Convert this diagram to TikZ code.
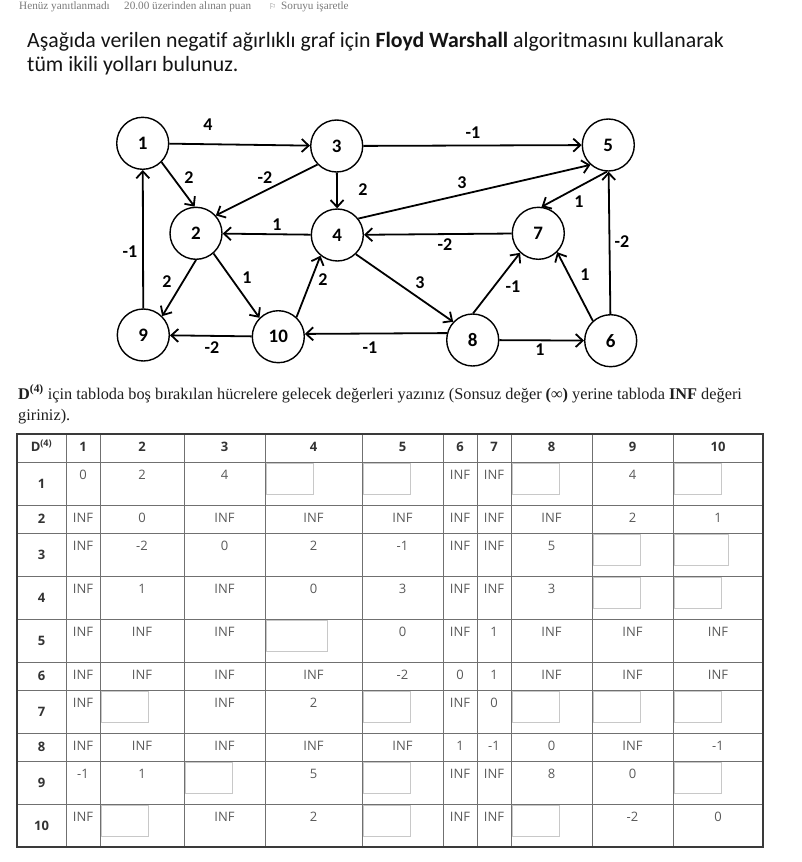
\documentclass[tikz,border=0pt]{standalone}
\usepackage{fontspec}
\setmainfont{Liberation Serif}
\newfontfamily\carlito[Ligatures=NoCommon]{Carlito}
\newfontfamily\osans{Open Sans}
\newfontfamily\djv{DejaVu Sans}
\usetikzlibrary{arrows.meta}
\definecolor{tline}{HTML}{707070}
\definecolor{touter}{HTML}{3A3A3A}
\definecolor{tbox}{HTML}{C8C8C8}
\definecolor{tval}{HTML}{5A5A5A}
\definecolor{thead}{HTML}{333333}
\definecolor{topgray}{HTML}{7A7A7A}
\def\mkB{B}\def\mkW{W}\def\mkV{V}
\newcommand\cellitem[3]{%
  \pgfmathsetmacro\cl{{17,66,100,184,265,362,443,477,511,592,673,763}[#1]}%
  \pgfmathsetmacro\cr{{17,66,100,184,265,362,443,477,511,592,673,763}[#1+1]}%
  \edef\tmpv{#3}%
  \ifx\tmpv\mkB
    \draw[inbox] (\cl+1,#2+1) rectangle (\cl+48,#2+32);
  \else\ifx\tmpv\mkW
    \draw[inbox] (\cl+1,#2+1) rectangle (\cl+62,#2+32);
  \else\ifx\tmpv\mkV
    \draw[inbox] (\cl+1,#2+1) rectangle (\cl+55,#2+32);
  \else
    \node[val] (v#2-#1) at ({(\cl+\cr)/2},#2+17) {#3};
  \fi\fi\fi}
\begin{document}
\begin{tikzpicture}[x=1pt,y=-1pt,
  gnode/.style={circle,draw=black,line width=1.4pt,minimum size=52pt,inner sep=0pt,
    font=\carlito\bfseries\fontsize{19}{19}\selectfont},
  edge/.style={line width=1.8pt,-{Straight Barb[length=7pt,width=13pt,line width=1.8pt]}},
  wlab/.style={font=\carlito\bfseries\fontsize{18}{18}\selectfont,inner sep=0pt},
  inbox/.style={draw=tbox,line width=0.9pt,fill=white},
  val/.style={anchor=base,inner sep=0pt,text=tval,font=\osans\fontsize{13}{13}\selectfont},
  hd/.style={anchor=base,inner sep=0pt,text=thead,font=\osans\bfseries\fontsize{13}{13}\selectfont},
  tline/.style={draw=tline,line width=1pt}]
\useasboundingbox (0,0) rectangle (801,862);
\fill[white] (0,0) rectangle (801,862);

% ---- top status line
\begin{scope}[every node/.style={anchor=base west,inner sep=0pt,text=topgray,font=\fontsize{11.2}{11}\selectfont}]
\node (st1) at (19,9.5) {Henüz yanıtlanmadı};
\node (st2) at (124,9.5) {20.00 üzerinden alınan puan};
\node[font=\djv\fontsize{8}{8}\selectfont] (st3) at (269,9.5) {⚐};
\node (st4) at (281,9.5) {Soruyu işaretle};
\end{scope}

% ---- title
\begin{scope}[every node/.style={anchor=base west,inner sep=0pt,text=black!92,font=\carlito\fontsize{21.8}{26}\selectfont}]
\node (t1) at (27,47) {Aşağıda verilen negatif ağırlıklı graf için \textbf{Floyd Warshall} algoritmasını kullanarak};
\node (t2) at (27,71) {tüm ikili yolları bulunuz.};
\end{scope}

% ---- graph
\node[gnode] (n1) at (142.7,143.3) {1};
\node[gnode] (n2) at (196,233.3) {2};
\node[gnode] (n3) at (336.7,146) {3};
\node[gnode] (n4) at (337.3,235) {4};
\node[gnode] (n5) at (608.3,145) {5};
\node[gnode] (n6) at (610.7,340.7) {6};
\node[gnode] (n7) at (538.3,233.3) {7};
\node[gnode] (n8) at (472.7,340) {8};
\node[gnode] (n9) at (143.3,335) {9};
\node[gnode] (n10) at (278.3,336.7) {10};

\draw[edge] (n1) -- (n3);
\draw[edge] (n1.-45) -- (n2.93);
\draw[edge] (n3.224) -- (n2.42);
\draw[edge] (n3) -- (n4);
\draw[edge] (n4) -- (n2);
\draw[edge] (n2.270) -- (n9.45);
\draw[edge] (n2.-49) -- (n10.135);
\draw[edge] (n10.47) -- (n4.-129);
\draw[edge] (n9) -- (n1);
\draw[edge] (n10) -- (n9);
\draw[edge] (n8.165) -- (n10.6);
\draw[edge] (n3) -- (n5);
\draw[edge] (n4.38) -- (n5.228);
\draw[edge] (n5.267) -- (n7.83);
\draw[edge] (n7) -- (n4);
\draw[edge] (n4.-46) -- (n8.137);
\draw[edge] (n8.89) -- (n7.-133);
\draw[edge] (n6.132) -- (n7.-45);
\draw[edge] (n6) -- (n5);
\draw[edge] (n8) -- (n6);

\node[wlab] (w13) at (208,125) {4};
\node[wlab] (w12) at (189,178) {2};
\node[wlab] (w32) at (265,178) {-2};
\node[wlab] (w34) at (363,190) {2};
\node[wlab] (w42) at (277,225) {1};
\node[wlab] (w91) at (130,252) {-1};
\node[wlab] (w29) at (167,282) {2};
\node[wlab] (w210) at (247,278) {1};
\node[wlab] (w104) at (323,280) {2};
\node[wlab] (w109) at (212,348) {-2};
\node[wlab] (w810) at (370,348) {-1};
\node[wlab] (w35) at (473,133) {-1};
\node[wlab] (w45) at (462,183) {3};
\node[wlab] (w57) at (579,202) {1};
\node[wlab] (w74) at (445,245) {-2};
\node[wlab] (w48) at (420,283) {3};
\node[wlab] (w87) at (513,287) {-1};
\node[wlab] (w67) at (585,275) {1};
\node[wlab] (w65) at (622,242) {-2};
\node[wlab] (w86) at (540,350) {1};

% ---- question text
\begin{scope}[every node/.style={anchor=base west,inner sep=0pt,text=black!88,font=\fontsize{16.3}{19}\selectfont}]
\node (q1) at (18,399) {\textbf{D\textsuperscript{(4)}} için tabloda boş bırakılan hücrelere gelecek değerleri yazınız (Sonsuz değer \textbf{(∞)} yerine tabloda \textbf{INF} değeri};
\node (q2) at (18,420) {giriniz).};
\end{scope}

% ---- table grid
\foreach \yy in {462,505,533,576,619,662,690,733,761,804}
  \draw[tline] (17,\yy) -- (763,\yy);
\foreach \xx in {66,100,184,265,362,443,477,511,592,673}
  \draw[tline] (\xx,434) -- (\xx,847);
\draw[draw=touter,line width=1.2pt] (17,434) rectangle (763,847);

% header row
\node[hd] (hD) at (41.5,451) {D\textsuperscript{(4)}};
\foreach \cx [count=\c] in {83,142,224.5,313.5,402.5,460,494,551.5,632.5,718}
  \node[hd] (hc\c) at (\cx,451) {\c};

% row labels (vertically centred)
\foreach \mid [count=\r] in {483.5,519,554.5,597.5,640.5,676,711.5,747,782.5,825.5}
  \node[hd] (hr\r) at (41.5,\mid+4.5) {\r};

% cell values and input boxes
\foreach \t/\vals in {
  462/{0,2,4,B,B,INF,INF,B,4,B},
  505/{INF,0,INF,INF,INF,INF,INF,INF,2,1},
  533/{INF,-2,0,2,-1,INF,INF,5,B,V},
  576/{INF,1,INF,0,3,INF,INF,3,B,B},
  619/{INF,INF,INF,W,0,INF,1,INF,INF,INF},
  662/{INF,INF,INF,INF,-2,0,1,INF,INF,INF},
  690/{INF,B,INF,2,B,INF,0,B,B,B},
  733/{INF,INF,INF,INF,INF,1,-1,0,INF,-1},
  761/{-1,1,B,5,B,INF,INF,8,0,B},
  804/{INF,B,INF,2,B,INF,INF,B,-2,0}}
{
  \foreach \v [count=\c] in \vals {\cellitem{\c}{\t}{\v}}
}
\end{tikzpicture}
\end{document}
